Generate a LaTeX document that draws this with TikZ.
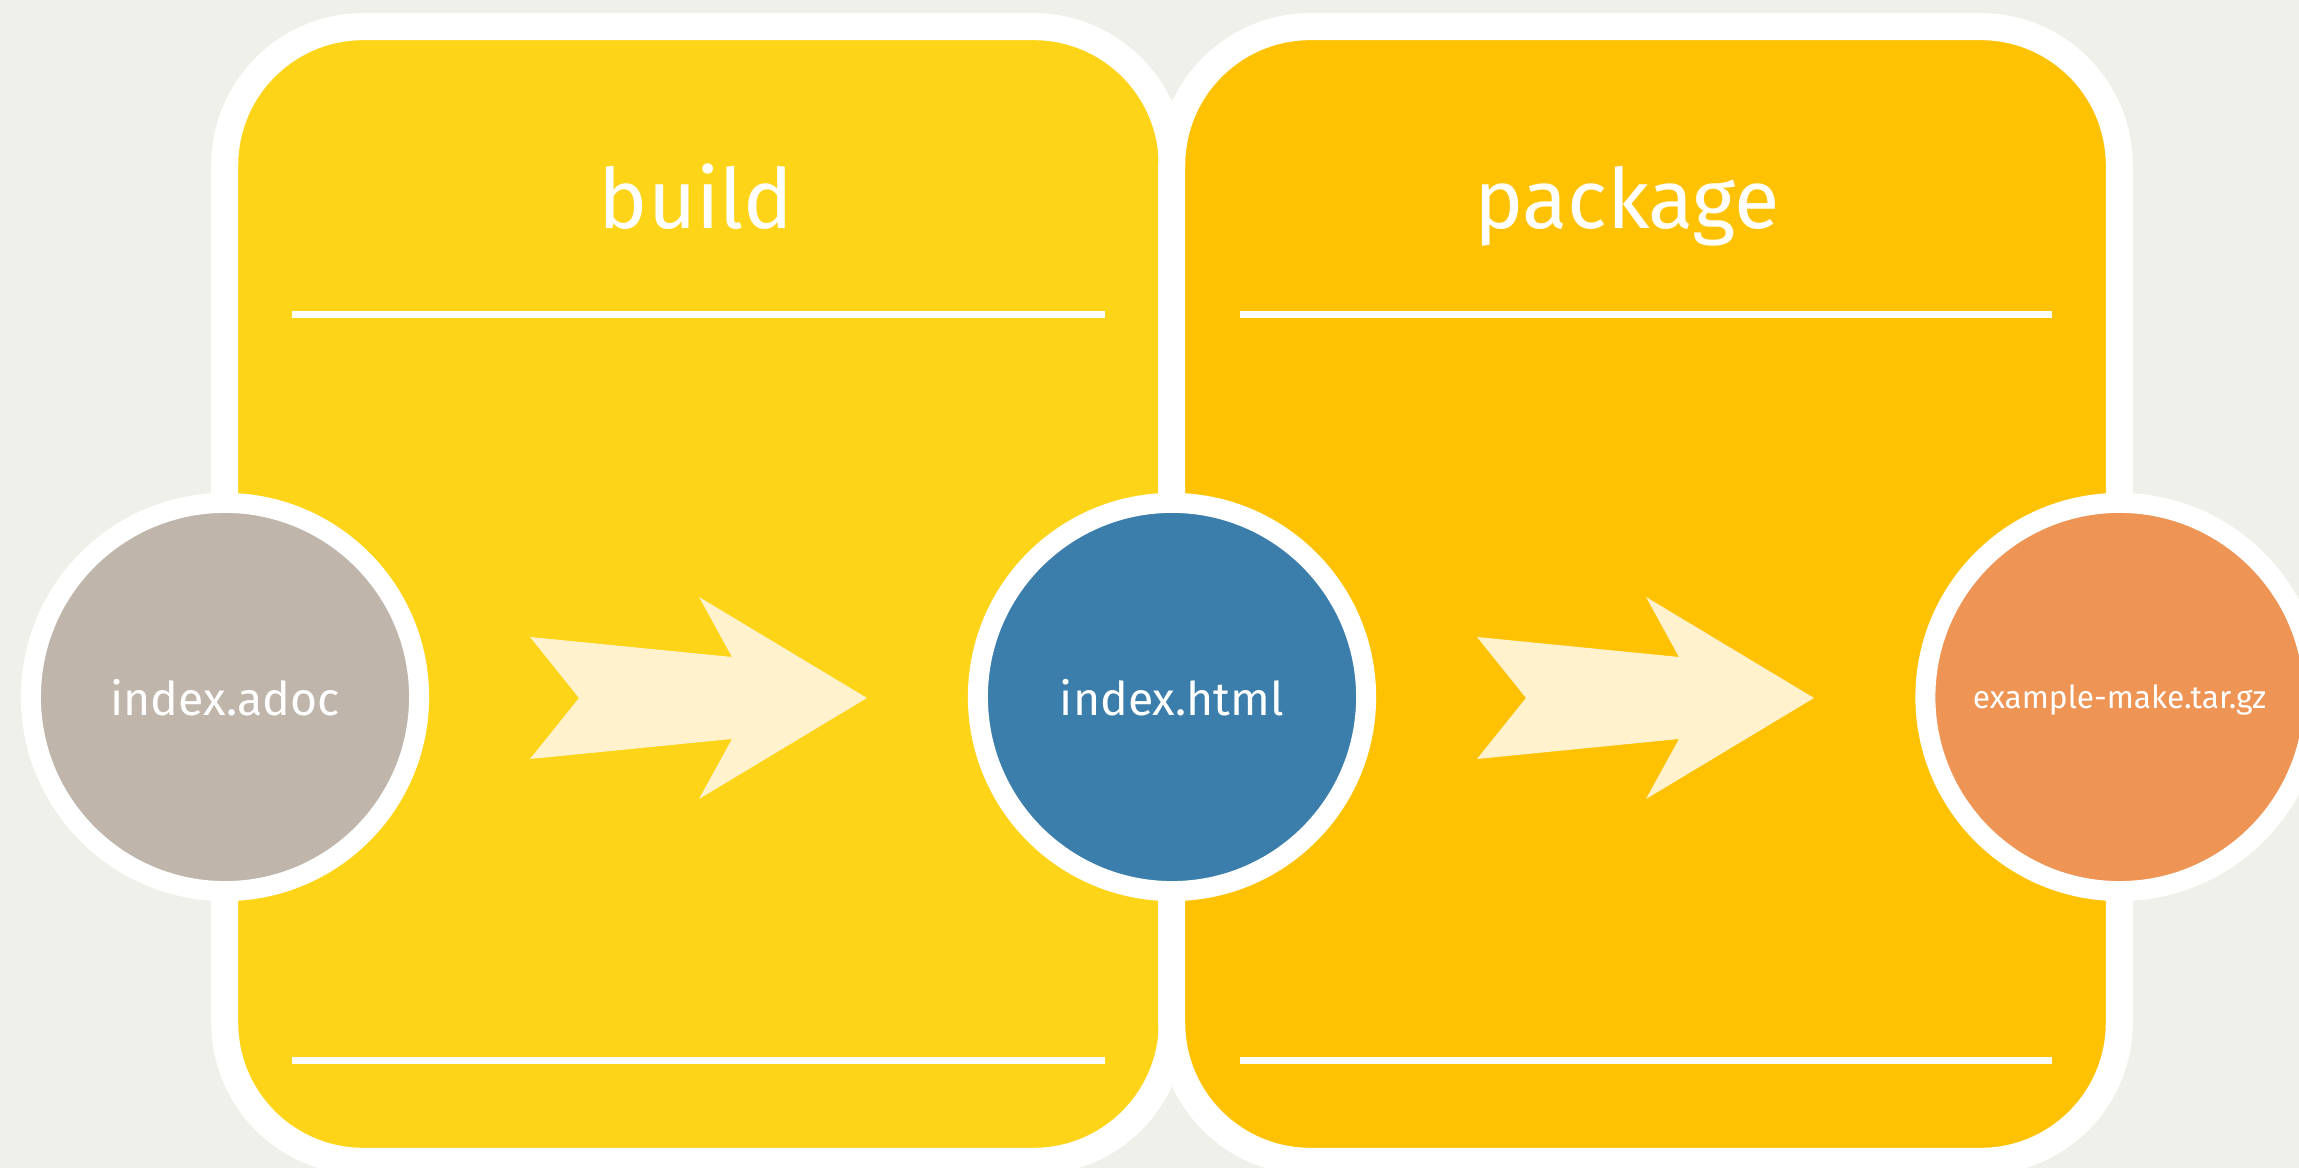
\documentclass[tikz,border=0pt]{standalone}
\usepackage{fontspec}
\setmainfont{Fira Sans}
\usetikzlibrary{calc}

\definecolor{canvas}{HTML}{F0F0EB}
\definecolor{buildfill}{HTML}{FED419}
\definecolor{packfill}{HTML}{FFC203}
\definecolor{arrowfill}{HTML}{FFF2CD}
\definecolor{srcfill}{HTML}{BFB5AB}
\definecolor{htmlfill}{HTML}{3B7EAB}
\definecolor{tarfill}{HTML}{EE9555}

\tikzset{
  flow/.pic={
    \fill[arrowfill] (0,-61) -- (49,0) -- (0,61) -- (202,41) -- (169,101)
      -- (337,0) -- (169,-101) -- (202,-41) -- cycle;
  }
}

\begin{document}
\begin{tikzpicture}[x=0.01cm, y=-0.01cm,
  stage/.style={rectangle, draw=white, line width=0.27cm,
    rounded corners=1.385cm, minimum width=9.47cm, minimum height=11.34cm,
    inner sep=0pt, outer sep=0pt},
  stagetitle/.style={text=white, anchor=base, inner sep=0pt,
    font=\fontsize{23.6}{23.6}\selectfont},
  rule/.style={draw=white, line width=0.07cm},
  artifact/.style={circle, draw=white, line width=0.2cm, minimum size=3.88cm,
    inner sep=0pt, text=white, text depth=0pt,
    font=\fontsize{13.2}{13.2}\selectfont},
]
\useasboundingbox (0,0) rectangle (2299,1168);
\clip (0,0) rectangle (2299,1168);
\fill[canvas] (0,0) rectangle (2299,1168);

% the two stages
\node[stage, fill=buildfill] (buildbox) at (698.5,594) {};
\node[stage, fill=packfill] (packbox) at (1645.5,594) {};

\node[stagetitle] (buildtitle) at (696,229) {build};
\node[stagetitle] (packtitle) at (1627,229) {package};

\draw[rule] (292,315) -- (1105,315);
\draw[rule] (292,1061) -- (1105,1061);
\draw[rule] (1240,315) -- (2052,315);
\draw[rule] (1240,1061) -- (2052,1061);

% artifacts on the stage borders
\node[artifact, fill=srcfill] (adoc) at (225,697) {index.adoc};
\node[artifact, fill=htmlfill] (html) at (1172,697) {index.html};
\node[artifact, fill=tarfill, font=\fontsize{9}{9}\selectfont] (tar) at (2119.5,697) {example-make.tar.gz};

% flow arrows inside each stage
\pic at ($(adoc.center)+(305,1)$) {flow};
\pic at ($(html.center)+(305,1)$) {flow};
\end{tikzpicture}
\end{document}
